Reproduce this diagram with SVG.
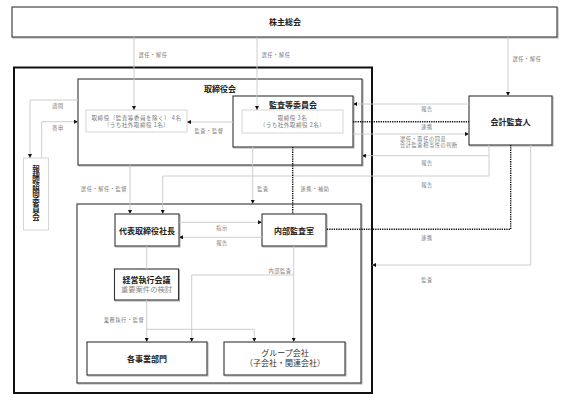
<svg xmlns="http://www.w3.org/2000/svg" width="571" height="403" viewBox="0 0 571 403">
<style>
text{font-family:"Noto Sans CJK JP","Noto Sans",sans-serif;}
.box{fill:#fff;stroke:#333;stroke-width:1.1;}
.sh{fill:none;stroke:#aaa;stroke-width:1;}
.lbox{fill:#fff;stroke:#d0d0d0;stroke-width:0.9;}
.outer{fill:none;stroke:#111;stroke-width:2;}
.t{font-size:8px;font-weight:bold;fill:#222;text-anchor:middle;}
.s{font-size:5.6px;fill:#777;text-anchor:middle;letter-spacing:0.45px;}
.lb{font-size:5.2px;fill:#777;text-anchor:middle;letter-spacing:0.6px;}
.ln{fill:none;stroke:#c8c8c8;stroke-width:0.9;}
.dot{fill:none;stroke:#111;stroke-width:1.4;stroke-dasharray:1.3 1;}
</style>
<defs>
<marker id="ah" viewBox="0 0 6 6" refX="6" refY="3" markerWidth="4" markerHeight="4" orient="auto" markerUnits="userSpaceOnUse"><path d="M0,0 L6,3 L0,6z" fill="#111"/></marker>
</defs>
<rect width="571" height="403" fill="#fff"/>

<rect class="outer" x="14" y="67.5" width="358" height="325.5"/>

<g id="shareholders">
<rect class="sh" x="13" y="8" width="545" height="30"/>
<rect class="box" x="12" y="7" width="545" height="30"/>
<text class="t" x="285" y="25">株主総会</text>
</g>

<g id="board">
<rect class="sh" x="79" y="80" width="284" height="86"/>
<rect class="box" x="78" y="79" width="284" height="86"/>
<text class="t" x="220" y="92">取締役会</text>
</g>

<g id="directors">
<rect class="lbox" x="86" y="110" width="101" height="22"/>
<text class="s" x="136.5" y="119.5">取締役（監査等委員を除く） 4名</text>
<text class="s" x="136.5" y="126.5">（うち社外取締役 1名）</text>
</g>

<g id="audit-committee">
<rect class="sh" x="234" y="97" width="120" height="51"/>
<rect class="box" x="233" y="96" width="120" height="51"/>
<text class="t" x="293" y="108">監査等委員会</text>
<rect class="lbox" x="242" y="110" width="101" height="23"/>
<text class="s" x="292.5" y="119.5">取締役 3名</text>
<text class="s" x="292.5" y="126.5">（うち社外取締役 2名）</text>
</g>

<g id="accounting-auditor">
<rect class="sh" x="470" y="97" width="83" height="49"/>
<rect class="box" x="469" y="96" width="83" height="49"/>
<text class="t" x="510.5" y="124.5">会計監査人</text>
</g>

<g id="compensation-committee">
<rect class="lbox" x="23.5" y="158" width="25" height="72"/>
<text x="36" y="165" style="writing-mode:vertical-rl;font-size:7.5px;font-weight:bold;fill:#222;letter-spacing:0.6px">報酬諮問委員会</text>
</g>

<g id="executive-area">
<rect class="sh" x="78" y="205" width="284" height="179"/>
<rect class="box" x="77" y="204" width="284" height="179"/>
</g>

<g id="president">
<rect class="sh" x="116" y="215" width="64" height="32"/>
<rect class="box" x="115" y="214" width="64" height="32"/>
<text class="t" x="147" y="233.5">代表取締役社長</text>
</g>

<g id="internal-audit">
<rect class="sh" x="263" y="215" width="64" height="32"/>
<rect class="box" x="262" y="214" width="64" height="32"/>
<text class="t" x="294" y="233.5">内部監査室</text>
</g>

<g id="management-meeting">
<rect class="sh" x="115.5" y="270" width="64" height="31"/>
<rect class="box" x="114.5" y="269" width="64" height="31"/>
<text class="t" x="146.5" y="283">経営執行会議</text>
<text x="146.5" y="292" style="font-size:7.3px;fill:#888;text-anchor:middle">重要案件の検討</text>
</g>

<g id="business-divisions">
<rect class="sh" x="88" y="343" width="120" height="33"/>
<rect class="box" x="87" y="342" width="120" height="33"/>
<text class="t" x="147" y="361.5">各事業部門</text>
</g>

<g id="group-companies">
<rect class="sh" x="225" y="343" width="121" height="33"/>
<rect class="box" x="224" y="342" width="121" height="33"/>
<text class="t" x="285" y="356" style="font-weight:normal;fill:#333">グループ会社</text>
<text class="t" x="285" y="366" style="font-weight:normal;fill:#333">（子会社・関連会社）</text>
</g>

<g id="connectors">
<path class="ln" d="M134,37 V110" marker-end="url(#ah)"/>
<path class="ln" d="M257,37 V110" marker-end="url(#ah)"/>
<path class="ln" d="M508,37 V96" marker-end="url(#ah)"/>
<path class="ln" d="M78,100 H30 V158" marker-end="url(#ah)"/>
<path class="ln" d="M41.7,158 V121.7 H78" marker-end="url(#ah)"/>
<path class="ln" d="M233,122 H187" marker-end="url(#ah)"/>
<path class="ln" d="M130,165 V214" marker-end="url(#ah)"/>
<path class="ln" d="M489,145 V176 H162.7 V214" marker-end="url(#ah)"/>
<path class="ln" d="M489,155.7 H362" marker-end="url(#ah)"/>
<path class="ln" d="M469,104 H353" marker-end="url(#ah)"/>
<path class="ln" d="M353,134 H469" marker-end="url(#ah)"/>
<path class="ln" d="M252.7,147 V204" marker-end="url(#ah)"/>
<path class="ln" d="M530.7,145 V265 H372" marker-end="url(#ah)"/>
<path class="ln" d="M179,222.3 H262" marker-end="url(#ah)"/>
<path class="ln" d="M262,237.3 H179" marker-end="url(#ah)"/>
<path class="ln" d="M146.7,246 V269"/>
<path class="ln" d="M146.7,300 V342" marker-end="url(#ah)"/>
<path class="ln" d="M146.7,329.3 H254.3 V342" marker-end="url(#ah)"/>
<path class="ln" d="M293.7,246 V342" marker-end="url(#ah)"/>
<path class="ln" d="M293.7,275 H191.7 V342" marker-end="url(#ah)"/>
<path class="dot" d="M292.7,147 V214"/>
<path class="dot" d="M353,121.7 H469"/>
<path class="dot" d="M510.7,145 V229.3 H326"/>

<text class="lb" x="153" y="57">選任・解任</text>
<text class="lb" x="276" y="57">選任・解任</text>
<text class="lb" x="527" y="61">選任・解任</text>
<text class="lb" x="58" y="108">諮問</text>
<text class="lb" x="58" y="130">答申</text>
<text class="lb" x="209" y="133">監査・監督</text>
<text class="lb" x="104" y="191">選任・解任・監督</text>
<text class="lb" x="263" y="191">監査</text>
<text class="lb" x="315" y="191">連携・補助</text>
<text class="lb" x="427" y="111">報告</text>
<text class="lb" x="427" y="129">連携</text>
<text class="lb" x="400" y="141" style="text-anchor:start">選任・再任の同意</text>
<text class="lb" x="400" y="146.5" style="text-anchor:start">会計監査相当性の判断</text>
<text class="lb" x="427" y="165">報告</text>
<text class="lb" x="427" y="187">報告</text>
<text class="lb" x="427" y="240">連携</text>
<text class="lb" x="427" y="282">監査</text>
<text class="lb" x="222" y="230">指示</text>
<text class="lb" x="222" y="245">報告</text>
<text class="lb" x="280" y="272.5">内部監査</text>
<text class="lb" x="124" y="322">業務執行・監督</text>
</g>
</svg>
